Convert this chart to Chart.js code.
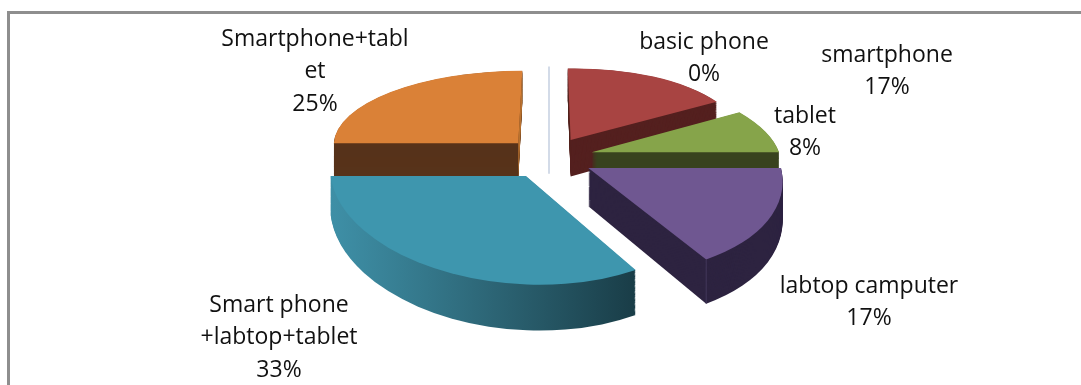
<!DOCTYPE html>
<html>
<head>
<meta charset="utf-8">
<script src="https://cdn.jsdelivr.net/npm/chart.js@4/dist/chart.umd.js"></script>
<style>
  html, body { margin: 0; padding: 0; background: #fff; overflow: hidden; }
  #wrap { position: relative; width: 1081px; height: 385px; overflow: hidden; }
  #frame { position: absolute; left: 7px; top: 11px; width: 1100px; height: 400px; border: 3px solid #8e8e8e; box-sizing: border-box; }
  canvas { position: absolute; left: 0; top: 0; }
</style>
</head>
<body>
<div id="wrap">
  <div id="frame"></div>
  <canvas id="deviceChart" width="1081" height="385"></canvas>
</div>
<script>
const categories = ['basic phone', 'smartphone', 'tablet', 'labtop camputer', 'Smart phone +labtop+tablet', 'Smartphone+tablet'];
const values = [0, 2, 1, 2, 4, 3];
const topColors = ['#4f81bd', '#a84442', '#86a44a', '#6f5791', '#3e96ae', '#da8137'];
const wallColors = ['#c5cfe0', '#54201f', '#38431f', '#2d2340', null, '#57331a'];

// label lines are wrapped by hand like in the original, last line is the percent
const labelLines = [['basic phone'], ['smartphone'], ['tablet'], ['labtop camputer'], ['Smart phone', '+labtop+tablet'], ['Smartphone+tabl', 'et']];
const labelAnchors = [[704, 42], [887, 55], [805, 116], [869, 286], [279, 305], [315, 39]];
const lineHeight = 32.5;

const RADIUS = 195;
const EXPLODE = 46;
const view = { scale: 0.97, tilt: 0.45, persp: 0.000795, depth: 37.5 };

// ground plane (relative to pie centre) -> screen
function project(cx, cy, gx, gy, z) {
  const w = 1 - view.persp * gy;
  return [cx + view.scale * gx / w, cy + (view.tilt * gy + z) / w];
}

function apexOf(arc) {
  const mid = (arc.startAngle + arc.endAngle) / 2;
  return [Math.cos(mid) * EXPLODE, Math.sin(mid) * EXPLODE];
}

// draw one arc under the affine map given by its apex and its two edge points
function drawProjected(ctx, arc, z, fill) {
  const a0 = arc.startAngle, a1 = arc.endAngle;
  const [ax, ay] = apexOf(arc);
  const v1 = [Math.cos(a0) * RADIUS, Math.sin(a0) * RADIUS];
  const v2 = [Math.cos(a1) * RADIUS, Math.sin(a1) * RADIUS];
  const p0 = project(arc.x, arc.y, ax, ay, z);
  const p1 = project(arc.x, arc.y, ax + v1[0], ay + v1[1], z);
  const p2 = project(arc.x, arc.y, ax + v2[0], ay + v2[1], z);
  const w1 = [p1[0] - p0[0], p1[1] - p0[1]];
  const w2 = [p2[0] - p0[0], p2[1] - p0[1]];
  const det = v1[0] * v2[1] - v1[1] * v2[0];
  const a = (w1[0] * v2[1] - w2[0] * v1[1]) / det;
  const c = (w2[0] * v1[0] - w1[0] * v2[0]) / det;
  const b = (w1[1] * v2[1] - w2[1] * v1[1]) / det;
  const d = (w2[1] * v1[0] - w1[1] * v2[0]) / det;
  ctx.save();
  ctx.transform(a, b, c, d, p0[0] - a * (arc.x + ax) - c * (arc.y + ay), p0[1] - b * (arc.x + ax) - d * (arc.y + ay));
  ctx.beginPath();
  ctx.moveTo(arc.x + ax, arc.y + ay);
  ctx.arc(arc.x + ax, arc.y + ay, arc.outerRadius, a0, a1);
  ctx.closePath();
  ctx.fillStyle = typeof fill === 'function' ? fill(ctx, arc, ax) : fill;
  ctx.fill();
  ctx.restore();
}

// flat wall along one straight edge of a slice
function edgeWall(ctx, arc, angle, color) {
  const [ax, ay] = apexOf(arc);
  const ex = ax + Math.cos(angle) * RADIUS, ey = ay + Math.sin(angle) * RADIUS;
  const pts = [
    project(arc.x, arc.y, ax, ay, 0),
    project(arc.x, arc.y, ex, ey, 0),
    project(arc.x, arc.y, ex, ey, view.depth),
    project(arc.x, arc.y, ax, ay, view.depth),
  ];
  ctx.beginPath();
  pts.forEach((p, i) => (i ? ctx.lineTo(p[0], p[1]) : ctx.moveTo(p[0], p[1])));
  ctx.closePath();
  ctx.fillStyle = color;
  ctx.fill();
}

function tealWall(ctx, arc, ax) {
  const g = ctx.createLinearGradient(arc.x + ax - RADIUS, 0, arc.x + ax + 107, 0);
  g.addColorStop(0, '#3e8fa6');
  g.addColorStop(0.5, '#2c6474');
  g.addColorStop(1, '#183a44');
  return g;
}

const pie3d = {
  id: 'pie3d',
  beforeDatasetsDraw(chart) {
    const ctx = chart.ctx;
    const arcs = chart.getDatasetMeta(0).data;
    // back slices first, the front ones cover them
    [5, 1, 2, 3, 4].forEach(i => {
      const arc = arcs[i];
      const wall = wallColors[i] || tealWall;
      for (let z = view.depth; z > 0; z -= 1) drawProjected(ctx, arc, z, wall);
      if (i === 5) edgeWall(ctx, arc, arc.endAngle, '#b9722f');
      drawProjected(ctx, arc, 0, topColors[i]);
      if (i === 3) {
        // faint seam where the cut meets the rim
        const [ax, ay] = apexOf(arc);
        const ex = ax + Math.cos(arc.endAngle) * RADIUS, ey = ay + Math.sin(arc.endAngle) * RADIUS;
        const s0 = project(arc.x, arc.y, ex, ey, 0), s1 = project(arc.x, arc.y, ex, ey, view.depth);
        ctx.strokeStyle = '#43385a';
        ctx.lineWidth = 1;
        ctx.beginPath();
        ctx.moveTo(s0[0], s0[1]);
        ctx.lineTo(s1[0], s1[1]);
        ctx.stroke();
      }
    });
    // the 0% slice only shows up as a thin edge
    const zero = arcs[0];
    const gx = Math.cos(zero.startAngle), gy = Math.sin(zero.startAngle);
    const p0 = project(zero.x, zero.y, gx * EXPLODE, gy * EXPLODE, view.depth);
    const p1 = project(zero.x, zero.y, gx * (EXPLODE + RADIUS), gy * (EXPLODE + RADIUS), 0);
    ctx.save();
    ctx.strokeStyle = wallColors[0];
    ctx.lineWidth = 1.5;
    ctx.beginPath();
    ctx.moveTo(p1[0], p1[1]);
    ctx.lineTo(p0[0], p0[1]);
    ctx.stroke();
    ctx.restore();
    return false;
  },
  afterDraw(chart) {
    const ctx = chart.ctx;
    const total = values.reduce((s, v) => s + v, 0);
    ctx.save();
    ctx.font = '23px "Open Sans"';
    ctx.fillStyle = '#111';
    ctx.textAlign = 'center';
    ctx.textBaseline = 'middle';
    labelLines.forEach((lines, i) => {
      const all = lines.concat(Math.round(values[i] / total * 100) + '%');
      all.forEach((t, k) => ctx.fillText(t, labelAnchors[i][0], labelAnchors[i][1] + k * lineHeight));
    });
    ctx.restore();
  }
};

new Chart(document.getElementById('deviceChart').getContext('2d'), {
  type: 'pie',
  data: {
    labels: categories,
    datasets: [{ data: values, backgroundColor: topColors, borderWidth: 0 }],
  },
  options: {
    responsive: false,
    animation: false,
    radius: RADIUS,
    layout: { padding: { left: 17, bottom: 70 } },
    plugins: { legend: { display: false }, tooltip: { enabled: false } },
  },
  plugins: [pie3d],
});
</script>
</body>
</html>
